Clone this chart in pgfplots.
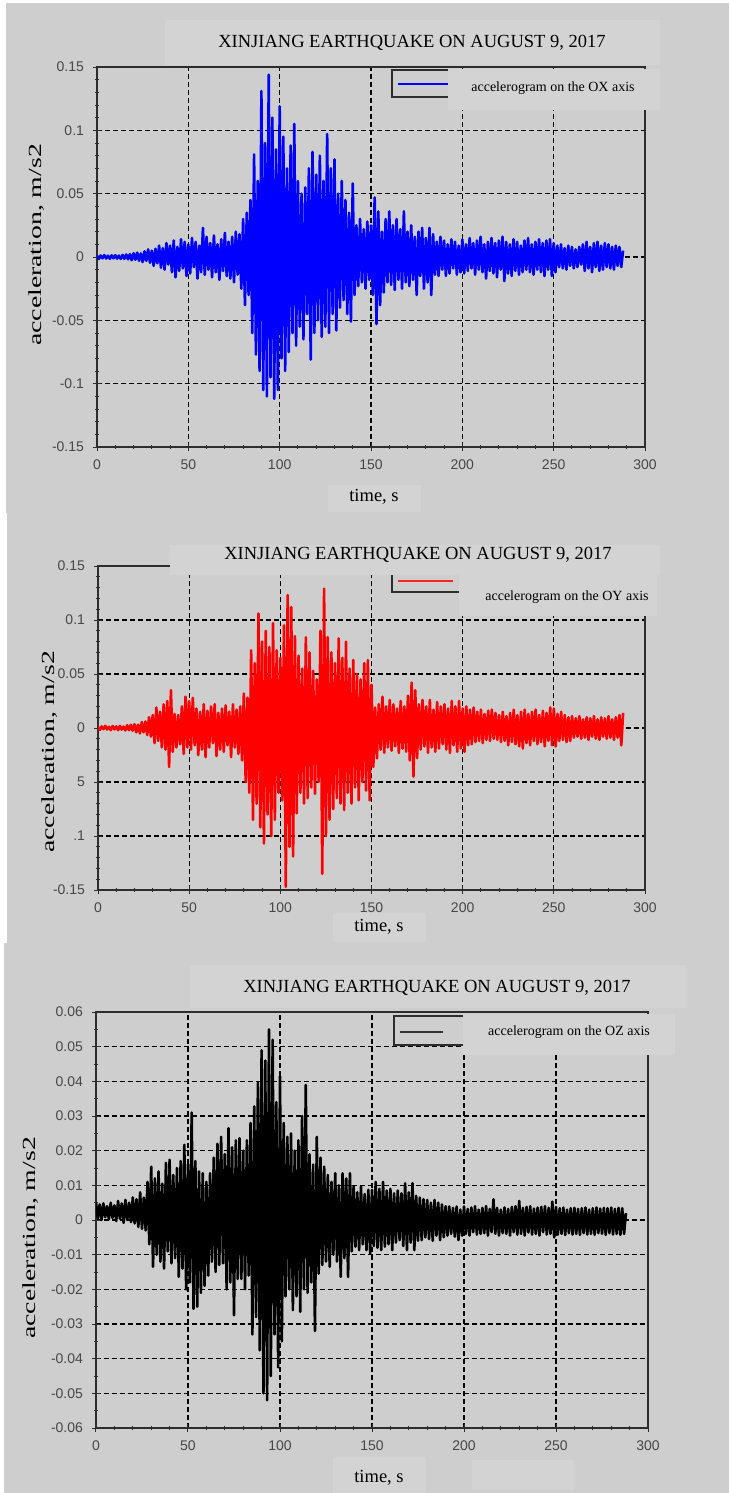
\documentclass[border=0pt]{standalone}
\usepackage{fontspec}
\setmainfont{Liberation Serif}
\newfontfamily\tickfont{Liberation Sans}
\usepackage{pgfplots}
\pgfplotsset{compat=1.18}
\definecolor{bg}{RGB}{206,206,206}
\definecolor{patch}{RGB}{211,211,211}
\definecolor{framec}{RGB}{45,45,45}
\pgfplotsset{quake/.style={scale only axis, anchor=south west,
  xmin=0, xmax=300, xtick={0,50,100,150,200,250,300},
  xticklabels={0,50,100,150,200,250,300}, minor x tick num=4,
  scaled y ticks=false, scaled x ticks=false,
  tick pos=left, tick align=center, major tick length=4pt, minor tick length=2pt,
  grid=major, major grid style={black, line width=0.55pt, dash pattern=on 2.5pt off 1.5pt},
  axis line style={framec, line width=0.75pt},
  tick style={framec, line width=0.5pt},
  ticklabel style={font=\fontsize{7}{8}\tickfont, text=black!72},
  xticklabel style={yshift=-1pt},
  yticklabel style={xshift=-1pt}},
  sig/.style={line width=1.3pt, line join=round, mark=none}}
\begin{document}
\begin{tikzpicture}
\begin{scope}[x=0.5pt,y=-0.5pt]
\fill[white] (0,0) rectangle (729,1493);
\fill[bg] (6,3) rectangle (729,513);
\fill[bg] (7,513) rectangle (729,943);
\fill[bg] (4,943) rectangle (729,1493);
\end{scope}
% ---------------- Panel 1 : OX ----------------
\begin{axis}[quake, at={(48.5pt,-223.5pt)}, width=274pt, height=190pt,
  ymin=-0.15, ymax=0.15, ytick={-0.15,-0.1,-0.05,0,0.05,0.1,0.15},
  yticklabels={-0.15,-0.1,-0.05,0,0.05,0.1,0.15}, minor y tick num=4]
\addplot[blue, sig] coordinates {
(0,0.001)(1,-0.0015)(2,0.0012)(3,-0.001)(4,0.0015)(5,-0.0012)(6,0.001)(7,-0.0014)(8,0.0013)(9,-0.001)
(10,0.0015)(11,-0.0013)(12,0.0011)(13,-0.0015)(14,0.0016)(15,-0.0014)(16,0.002)(17,-0.0018)(18,0.0022)(19,-0.0025)
(20,0.003)(21,-0.0022)(22,0.0035)(23,-0.003)(24,0.0028)(25,-0.004)(26,0.0045)(27,-0.003)(28,0.006)(29,-0.0045)
(30,0.005)(31,-0.007)(32,0.0065)(33,-0.005)(34,0.009)(35,-0.0085)(36,0.007)(37,-0.01)(38,0.011)(39,-0.006)
(40,0.009)(41,-0.012)(42,0.013)(43,-0.016)(44,0.008)(45,-0.011)(46,0.014)(47,-0.009)(48,0.012)(49,-0.015)
(50,0.01)(51,-0.013)(52,0.015)(53,-0.008)(54,0.012)(55,-0.017)(56,0.009)(57,-0.012)(58,0.023)(59,-0.014)
(60,0.016)(61,-0.01)(62,0.011)(63,-0.016)(64,0.017)(65,-0.012)(66,0.01)(67,-0.018)(68,0.014)(69,-0.011)
(70,0.019)(71,-0.015)(72,0.012)(73,-0.017)(74,0.016)(75,-0.02)(76,0.02)(77,-0.014)(78,0.018)(79,-0.025)
(80,0.03)(81,-0.038)(82,0.035)(83,-0.03)(84,0.045)(85,-0.06)(86,0.081)(87,-0.077)(88,0.06)(89,-0.09)
(90,0.131)(91,-0.105)(92,0.09)(93,-0.11)(94,0.144)(95,-0.095)(96,0.11)(97,-0.112)(98,0.085)(99,-0.105)
(100,0.119)(101,-0.08)(102,0.095)(103,-0.09)(104,0.07)(105,-0.075)(106,0.088)(107,-0.06)(108,0.105)(109,-0.07)
(110,0.06)(111,-0.055)(112,0.05)(113,-0.065)(114,0.055)(115,-0.045)(116,0.07)(117,-0.081)(118,0.083)(119,-0.06)
(120,0.065)(121,-0.05)(122,0.08)(123,-0.063)(124,0.06)(125,-0.055)(126,0.097)(127,-0.06)(128,0.07)(129,-0.045)
(130,0.077)(131,-0.058)(132,0.05)(133,-0.04)(134,0.06)(135,-0.034)(136,0.045)(137,-0.045)(138,0.035)(139,-0.051)
(140,0.058)(141,-0.03)(142,0.025)(143,-0.023)(144,0.03)(145,-0.02)(146,0.022)(147,-0.025)(148,0.028)(149,-0.018)
(150,0.025)(151,-0.03)(152,0.047)(153,-0.053)(154,0.036)(155,-0.038)(156,0.02)(157,-0.028)(158,0.03)(159,-0.02)
(160,0.036)(161,-0.022)(162,0.025)(163,-0.026)(164,0.03)(165,-0.018)(166,0.022)(167,-0.025)(168,0.036)(169,-0.02)
(170,0.02)(171,-0.023)(172,0.025)(173,-0.018)(174,0.016)(175,-0.03)(176,0.02)(177,-0.015)(178,0.023)(179,-0.025)
(180,0.015)(181,-0.02)(182,0.023)(183,-0.03)(184,0.018)(185,-0.014)(186,0.012)(187,-0.015)(188,0.016)(189,-0.01)
(190,0.013)(191,-0.015)(192,0.01)(193,-0.013)(194,0.014)(195,-0.009)(196,0.012)(197,-0.014)(198,0.009)(199,-0.012)
(200,0.014)(201,-0.013)(202,0.01)(203,-0.011)(204,0.015)(205,-0.009)(206,0.011)(207,-0.014)(208,0.013)(209,-0.01)
(210,0.016)(211,-0.012)(212,0.01)(213,-0.017)(214,0.012)(215,-0.011)(216,0.015)(217,-0.013)(218,0.011)(219,-0.016)
(220,0.013)(221,-0.01)(222,0.016)(223,-0.019)(224,0.012)(225,-0.013)(226,0.01)(227,-0.015)(228,0.014)(229,-0.011)
(230,0.012)(231,-0.014)(232,0.009)(233,-0.012)(234,0.013)(235,-0.01)(236,0.015)(237,-0.012)(238,0.01)(239,-0.014)
(240,0.012)(241,-0.01)(242,0.014)(243,-0.012)(244,0.011)(245,-0.015)(246,0.013)(247,-0.01)(248,0.014)(249,-0.015)
(250,0.011)(251,-0.012)(252,0.009)(253,-0.008)(254,0.01)(255,-0.009)(256,0.007)(257,-0.01)(258,0.009)(259,-0.007)
(260,0.008)(261,-0.009)(262,0.006)(263,-0.008)(264,0.008)(265,-0.006)(266,0.01)(267,-0.011)(268,0.012)(269,-0.009)
(270,0.008)(271,-0.012)(272,0.011)(273,-0.008)(274,0.012)(275,-0.011)(276,0.009)(277,-0.01)(278,0.011)(279,-0.008)
(280,0.01)(281,-0.009)(282,0.008)(283,-0.01)(284,0.009)(285,-0.007)(286,0.008)(287,-0.008)(288,0.005)
};
\end{axis}
% ---------------- Panel 2 : OY ----------------
\begin{axis}[quake, at={(49pt,-445pt)}, width=273.5pt, height=162pt,
  ymin=-0.15, ymax=0.15, ytick={-0.15,-0.1,-0.05,0,0.05,0.1,0.15},
  yticklabels={-0.15,.1,5,0,0.05,0.1,0.15}, minor y tick num=4]
\addplot[red, sig] coordinates {
(0,0.001)(1,-0.0018)(2,0.0015)(3,-0.001)(4,0.002)(5,-0.0014)(6,0.0012)(7,-0.002)(8,0.0018)(9,-0.0012)
(10,0.0015)(11,-0.002)(12,0.002)(13,-0.0015)(14,0.0013)(15,-0.0022)(16,0.0025)(17,-0.002)(18,0.003)(19,-0.0025)
(20,0.0035)(21,-0.004)(22,0.003)(23,-0.005)(24,0.0055)(25,-0.004)(26,0.006)(27,-0.0065)(28,0.01)(29,-0.008)
(30,0.012)(31,-0.014)(32,0.019)(33,-0.012)(34,0.015)(35,-0.018)(36,0.022)(37,-0.02)(38,0.025)(39,-0.036)
(40,0.035)(41,-0.022)(42,0.013)(43,-0.018)(44,0.012)(45,-0.015)(46,0.02)(47,-0.024)(48,0.029)(49,-0.018)
(50,0.025)(51,-0.02)(52,0.028)(53,-0.016)(54,0.018)(55,-0.025)(56,0.015)(57,-0.02)(58,0.022)(59,-0.027)
(60,0.016)(61,-0.018)(62,0.02)(63,-0.014)(64,0.022)(65,-0.026)(66,0.014)(67,-0.02)(68,0.018)(69,-0.022)
(70,0.021)(71,-0.016)(72,0.015)(73,-0.027)(74,0.022)(75,-0.018)(76,0.017)(77,-0.024)(78,0.02)(79,-0.03)
(80,0.032)(81,-0.05)(82,0.028)(83,-0.06)(84,0.072)(85,-0.085)(86,0.06)(87,-0.07)(88,0.106)(89,-0.092)
(90,0.08)(91,-0.107)(92,0.09)(93,-0.08)(94,0.075)(95,-0.1)(96,0.097)(97,-0.085)(98,0.072)(99,-0.06)
(100,0.065)(101,-0.067)(102,0.095)(103,-0.147)(104,0.123)(105,-0.11)(106,0.112)(107,-0.119)(108,0.085)(109,-0.079)
(110,0.067)(111,-0.06)(112,0.055)(113,-0.07)(114,0.084)(115,-0.065)(116,0.07)(117,-0.055)(118,0.053)(119,-0.061)
(120,0.045)(121,-0.05)(122,0.09)(123,-0.135)(124,0.129)(125,-0.1)(126,0.084)(127,-0.085)(128,0.07)(129,-0.075)
(130,0.06)(131,-0.065)(132,0.083)(133,-0.07)(134,0.065)(135,-0.076)(136,0.08)(137,-0.06)(138,0.055)(139,-0.07)
(140,0.063)(141,-0.055)(142,0.05)(143,-0.067)(144,0.045)(145,-0.05)(146,0.06)(147,-0.058)(148,0.063)(149,-0.067)
(150,0.04)(151,-0.036)(152,0.019)(153,-0.028)(154,0.022)(155,-0.02)(156,0.029)(157,-0.023)(158,0.02)(159,-0.018)
(160,0.026)(161,-0.021)(162,0.022)(163,-0.017)(164,0.018)(165,-0.023)(166,0.025)(167,-0.019)(168,0.02)(169,-0.022)
(170,0.03)(171,-0.03)(172,0.042)(173,-0.045)(174,0.035)(175,-0.028)(176,0.022)(177,-0.02)(178,0.026)(179,-0.017)
(180,0.02)(181,-0.023)(182,0.026)(183,-0.018)(184,0.017)(185,-0.022)(186,0.024)(187,-0.019)(188,0.02)(189,-0.015)
(190,0.022)(191,-0.02)(192,0.018)(193,-0.023)(194,0.025)(195,-0.016)(196,0.02)(197,-0.022)(198,0.025)(199,-0.019)
(200,0.018)(201,-0.022)(202,0.02)(203,-0.016)(204,0.017)(205,-0.015)(206,0.019)(207,-0.013)(208,0.015)(209,-0.012)
(210,0.017)(211,-0.014)(212,0.013)(213,-0.011)(214,0.016)(215,-0.012)(216,0.017)(217,-0.01)(218,0.014)(219,-0.011)
(220,0.012)(221,-0.013)(222,0.015)(223,-0.012)(224,0.011)(225,-0.016)(226,0.014)(227,-0.013)(228,0.017)(229,-0.015)
(230,0.012)(231,-0.017)(232,0.015)(233,-0.019)(234,0.017)(235,-0.014)(236,0.013)(237,-0.016)(238,0.015)(239,-0.012)
(240,0.017)(241,-0.015)(242,0.012)(243,-0.013)(244,0.016)(245,-0.017)(246,0.014)(247,-0.012)(248,0.019)(249,-0.016)
(250,0.018)(251,-0.017)(252,0.013)(253,-0.012)(254,0.015)(255,-0.011)(256,0.012)(257,-0.013)(258,0.01)(259,-0.012)
(260,0.011)(261,-0.009)(262,0.009)(263,-0.008)(264,0.011)(265,-0.01)(266,0.008)(267,-0.009)(268,0.01)(269,-0.011)
(270,0.009)(271,-0.008)(272,0.011)(273,-0.01)(274,0.008)(275,-0.011)(276,0.01)(277,-0.008)(278,0.009)(279,-0.01)
(280,0.011)(281,-0.009)(282,0.008)(283,-0.011)(284,0.01)(285,-0.009)(286,0.012)(287,-0.016)(288,0.014)
};
\end{axis}
% ---------------- Panel 3 : OZ ----------------
\begin{axis}[quake, at={(48pt,-714pt)}, width=276pt, height=208pt,
  ymin=-0.06, ymax=0.06,
  ytick={-0.06,-0.05,-0.04,-0.03,-0.02,-0.01,0,0.01,0.02,0.03,0.04,0.05,0.06},
  yticklabels={-0.06,-0.05,-0.04,-0.03,-0.02,-0.01,0,0.01,0.02,0.03,0.04,0.05,0.06},
  minor y tick num=1]
\addplot[black, sig] coordinates {
(0,0.005)(1,0.0005)(2,0.0045)(3,0.0)(4,0.0048)(5,0.0008)(6,0.004)(7,0.0002)(8,0.005)(9,0.0006)
(10,0.0042)(11,-0.0003)(12,0.0055)(13,0.0004)(14,0.0048)(15,-0.0008)(16,0.0058)(17,0.0)(18,0.005)(19,-0.0006)
(20,0.0065)(21,-0.001)(22,0.006)(23,-0.002)(24,0.008)(25,-0.0025)(26,0.0065)(27,-0.003)(28,0.011)(29,-0.007)
(30,0.0154)(31,-0.0135)(32,0.012)(33,-0.01)(34,0.014)(35,-0.012)(36,0.0105)(37,-0.014)(38,0.0165)(39,-0.009)
(40,0.0174)(41,-0.0125)(42,0.013)(43,-0.011)(44,0.015)(45,-0.0164)(46,0.017)(47,-0.014)(48,0.0217)(49,-0.02)
(50,0.016)(51,-0.018)(52,0.031)(53,-0.0256)(54,0.017)(55,-0.025)(56,0.014)(57,-0.021)(58,0.0135)(59,-0.019)
(60,0.011)(61,-0.016)(62,0.0135)(63,-0.012)(64,0.018)(65,-0.015)(66,0.022)(67,-0.013)(68,0.024)(69,-0.0125)
(70,0.019)(71,-0.02)(72,0.0265)(73,-0.018)(74,0.021)(75,-0.0275)(76,0.023)(77,-0.017)(78,0.0236)(79,-0.017)
(80,0.02)(81,-0.02)(82,0.023)(83,-0.016)(84,0.028)(85,-0.033)(86,0.0328)(87,-0.028)(88,0.0396)(89,-0.0376)
(90,0.049)(91,-0.05)(92,0.046)(93,-0.052)(94,0.055)(95,-0.045)(96,0.052)(97,-0.033)(98,0.034)(99,-0.0425)
(100,0.0415)(101,-0.035)(102,0.028)(103,-0.022)(104,0.024)(105,-0.02)(106,0.025)(107,-0.026)(108,0.02)(109,-0.022)
(110,0.023)(111,-0.0265)(112,0.03)(113,-0.02)(114,0.039)(115,-0.021)(116,0.019)(117,-0.018)(118,0.016)(119,-0.032)
(120,0.024)(121,-0.0155)(122,0.018)(123,-0.013)(124,0.0154)(125,-0.012)(126,0.013)(127,-0.0135)(128,0.011)(129,-0.01)
(130,0.0135)(131,-0.012)(132,0.01)(133,-0.0164)(134,0.0135)(135,-0.011)(136,0.012)(137,-0.0164)(138,0.0135)(139,-0.009)
(140,0.0097)(141,-0.0077)(142,0.008)(143,-0.0087)(144,0.0097)(145,-0.007)(146,0.0075)(147,-0.0087)(148,0.0087)(149,-0.0097)
(150,0.0087)(151,-0.0075)(152,0.011)(153,-0.008)(154,0.009)(155,-0.0087)(156,0.011)(157,-0.0077)(158,0.0085)(159,-0.007)
(160,0.009)(161,-0.0087)(162,0.0077)(163,-0.0065)(164,0.0085)(165,-0.0058)(166,0.0077)(167,-0.0075)(168,0.0106)(169,-0.0087)
(170,0.008)(171,-0.0065)(172,0.0106)(173,-0.0087)(174,0.007)(175,-0.006)(176,0.0065)(177,-0.0058)(178,0.006)(179,-0.005)
(180,0.0058)(181,-0.0055)(182,0.005)(183,-0.006)(184,0.0058)(185,-0.0045)(186,0.005)(187,-0.0058)(188,0.0045)(189,-0.005)
(190,0.004)(191,-0.0045)(192,0.0039)(193,-0.004)(194,0.0035)(195,-0.0048)(196,0.0039)(197,-0.0058)(198,0.003)(199,-0.0045)
(200,0.0039)(201,-0.004)(202,0.0032)(203,-0.0045)(204,0.0036)(205,-0.0035)(206,0.004)(207,-0.0042)(208,0.003)(209,-0.004)
(210,0.0035)(211,-0.0038)(212,0.004)(213,-0.0045)(214,0.0032)(215,-0.0035)(216,0.006)(217,-0.004)(218,0.0035)(219,-0.0045)
(220,0.003)(221,-0.0038)(222,0.0036)(223,-0.004)(224,0.0032)(225,-0.0045)(226,0.0038)(227,-0.0035)(228,0.004)(229,-0.0042)
(230,0.0055)(231,-0.004)(232,0.0035)(233,-0.0045)(234,0.0038)(235,-0.0036)(236,0.004)(237,-0.0042)(238,0.0033)(239,-0.004)
(240,0.0036)(241,-0.0045)(242,0.0038)(243,-0.0035)(244,0.004)(245,-0.0042)(246,0.0035)(247,-0.004)(248,0.0053)(249,-0.005)
(250,0.0038)(251,-0.0042)(252,0.0034)(253,-0.004)(254,0.0036)(255,-0.0043)(256,0.003)(257,-0.0038)(258,0.0034)(259,-0.0042)
(260,0.0035)(261,-0.004)(262,0.0032)(263,-0.0043)(264,0.0034)(265,-0.0038)(266,0.0036)(267,-0.0042)(268,0.003)(269,-0.004)
(270,0.0034)(271,-0.0043)(272,0.0036)(273,-0.0038)(274,0.0033)(275,-0.004)(276,0.0035)(277,-0.0043)(278,0.0034)(279,-0.0038)
(280,0.0036)(281,-0.0042)(282,0.0032)(283,-0.004)(284,0.0035)(285,-0.0043)(286,0.0034)(287,-0.004)(288,0.002)
};
\end{axis}
% ---------------- overlays: patches, legends, titles, labels ----------------
\begin{scope}[x=0.5pt,y=-0.5pt]
% title patches
\fill[patch] (165,20) rectangle (660,65);
\fill[patch] (170,545) rectangle (660,575);
\fill[patch] (190,965) rectangle (686,1008);
% time label patches
\fill[patch] (328,485) rectangle (421,512);
\fill[patch] (333,913) rectangle (426,942);
\fill[patch] (333,1457) rectangle (426,1493);
\fill[patch] (472,1460) rectangle (574,1490);
% legend boxes
\fill[bg] (392,70) rectangle (450,97);
\draw[framec, line width=0.75pt] (450,70) -- (392,70) -- (392,97) -- (450,97);
\draw[blue, line width=0.8pt] (398,84) -- (448,84);
\draw[framec, line width=0.75pt] (392,575) -- (392,592) -- (460,592);
\draw[red!85, line width=0.8pt] (398,581) -- (453,581);
\fill[bg] (394,1016) rectangle (464,1045);
\draw[framec, line width=0.75pt] (464,1016) -- (394,1016) -- (394,1045) -- (464,1045);
\draw[black!80, line width=0.8pt] (400,1032) -- (443,1032);
% legend patches
\fill[patch] (448,69) rectangle (660,110);
\fill[patch] (459,573) rectangle (657,616);
\fill[patch] (463,1014) rectangle (675,1055);
% legend texts
\node[inner sep=0pt, font=\fontsize{7}{8}\selectfont] at (553,88) {accelerogram on the OX axis};
\node[inner sep=0pt, font=\fontsize{7}{8}\selectfont] at (567,597) {accelerogram on the OY axis};
\node[inner sep=0pt, font=\fontsize{7}{8}\selectfont] at (569,1032) {accelerogram on the OZ axis};
% titles
\node[inner sep=0pt, font=\fontsize{9.25}{11}\selectfont] at (412,43) {XINJIANG EARTHQUAKE ON AUGUST 9, 2017};
\node[inner sep=0pt, font=\fontsize{9.25}{11}\selectfont] at (418,555) {XINJIANG EARTHQUAKE ON AUGUST 9, 2017};
\node[inner sep=0pt, font=\fontsize{9.25}{11}\selectfont] at (437,988) {XINJIANG EARTHQUAKE ON AUGUST 9, 2017};
% x labels
\node[inner sep=0pt, font=\fontsize{9.25}{11}\selectfont] at (374,497) {time, s};
\node[inner sep=0pt, font=\fontsize{9.25}{11}\selectfont] at (379,927) {time, s};
\node[inner sep=0pt, font=\fontsize{9.25}{11}\selectfont] at (379,1478) {time, s};
% y labels
\node[inner sep=0pt, rotate=90, font=\fontsize{9.25}{11}\selectfont] at (37,245) {\scalebox{1.5}[1]{acceleration, m/s2}};
\node[inner sep=0pt, rotate=90, font=\fontsize{9.25}{11}\selectfont] at (50,752) {\scalebox{1.5}[1]{acceleration, m/s2}};
\node[inner sep=0pt, rotate=90, font=\fontsize{9.25}{11}\selectfont] at (31,1238) {\scalebox{1.5}[1]{acceleration, m/s2}};
\end{scope}
\pgfresetboundingbox
\useasboundingbox (0,0) rectangle (364.5pt,-746.5pt);
\end{tikzpicture}
\end{document}
